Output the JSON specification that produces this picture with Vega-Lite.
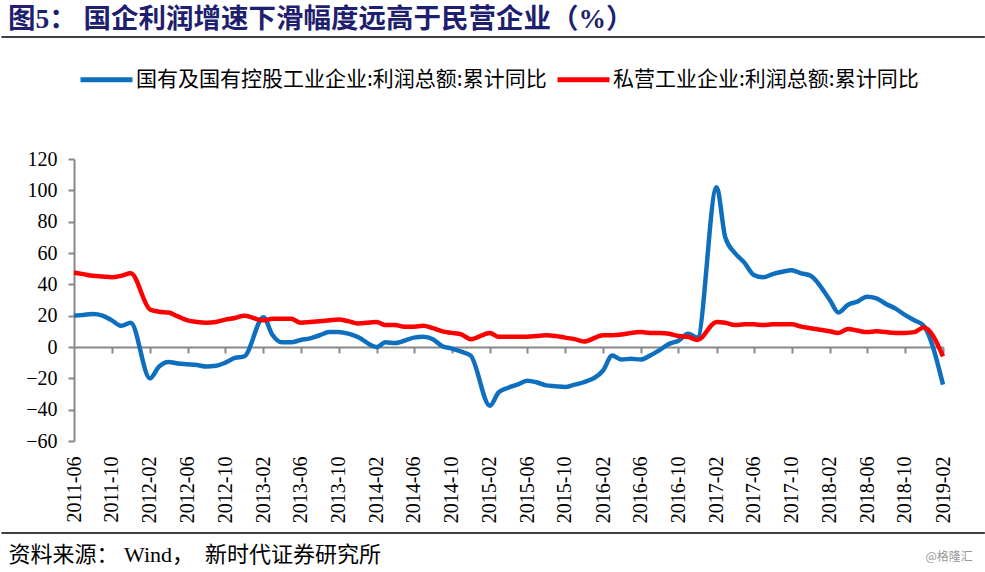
{
  "$schema": "https://vega.github.io/schema/vega-lite/v6.json",
  "width": 869,
  "height": 282,
  "autosize": {"type": "none"},
  "padding": {"left": 74, "top": 159, "right": 42, "bottom": 131},
  "background": "white",
  "title": {
    "text": "图5：  国企利润增速下滑幅度远高于民营企业（%）",
    "anchor": "start",
    "frame": "group",
    "dx": -66,
    "offset": 3,
    "font": "Liberation Serif, Noto Sans CJK SC",
    "fontSize": 27.5,
    "fontWeight": "bold",
    "color": "#1F1F70"
  },
  "data": {
    "values": [
      {"month": "2011-06", "soe": 20, "pvt": 47.5},
      {"month": "2011-07", "soe": 20.5, "pvt": 46.5},
      {"month": "2011-08", "soe": 21, "pvt": 45.5},
      {"month": "2011-09", "soe": 20, "pvt": 45},
      {"month": "2011-10", "soe": 17, "pvt": 44.5},
      {"month": "2011-11", "soe": 13.5, "pvt": 45.5},
      {"month": "2011-12", "soe": 15.5, "pvt": 47},
      {"month": "2012-02", "soe": -20, "pvt": 24},
      {"month": "2012-03", "soe": -12.5, "pvt": 22.5},
      {"month": "2012-04", "soe": -9.5, "pvt": 22},
      {"month": "2012-05", "soe": -10.5, "pvt": 19.5},
      {"month": "2012-06", "soe": -11, "pvt": 17},
      {"month": "2012-07", "soe": -11.5, "pvt": 16},
      {"month": "2012-08", "soe": -12.5, "pvt": 15.5},
      {"month": "2012-09", "soe": -12, "pvt": 16},
      {"month": "2012-10", "soe": -10, "pvt": 17.5},
      {"month": "2012-11", "soe": -7, "pvt": 18.5},
      {"month": "2012-12", "soe": -6, "pvt": 20},
      {"month": "2013-02", "soe": 19, "pvt": 17},
      {"month": "2013-03", "soe": 8, "pvt": 18},
      {"month": "2013-04", "soe": 3, "pvt": 18},
      {"month": "2013-05", "soe": 3, "pvt": 18},
      {"month": "2013-06", "soe": 4.5, "pvt": 15.5},
      {"month": "2013-07", "soe": 5.5, "pvt": 16},
      {"month": "2013-08", "soe": 7.5, "pvt": 16.5},
      {"month": "2013-09", "soe": 9.5, "pvt": 17},
      {"month": "2013-10", "soe": 9.5, "pvt": 17.5},
      {"month": "2013-11", "soe": 8.5, "pvt": 16.5},
      {"month": "2013-12", "soe": 6.5, "pvt": 15},
      {"month": "2014-02", "soe": 0, "pvt": 16},
      {"month": "2014-03", "soe": 3, "pvt": 14},
      {"month": "2014-04", "soe": 2.5, "pvt": 14},
      {"month": "2014-05", "soe": 4, "pvt": 13},
      {"month": "2014-06", "soe": 6, "pvt": 13},
      {"month": "2014-07", "soe": 6.5, "pvt": 13.5},
      {"month": "2014-08", "soe": 5, "pvt": 12},
      {"month": "2014-09", "soe": 0.5, "pvt": 10},
      {"month": "2014-10", "soe": -1, "pvt": 9},
      {"month": "2014-11", "soe": -3, "pvt": 8},
      {"month": "2014-12", "soe": -5.5, "pvt": 5},
      {"month": "2015-02", "soe": -37.5, "pvt": 9},
      {"month": "2015-03", "soe": -29, "pvt": 6.5},
      {"month": "2015-04", "soe": -26, "pvt": 6.5},
      {"month": "2015-05", "soe": -24, "pvt": 6.5},
      {"month": "2015-06", "soe": -21.5, "pvt": 6.5},
      {"month": "2015-07", "soe": -22.5, "pvt": 7},
      {"month": "2015-08", "soe": -24.5, "pvt": 7.5},
      {"month": "2015-09", "soe": -25, "pvt": 7},
      {"month": "2015-10", "soe": -25.5, "pvt": 6},
      {"month": "2015-11", "soe": -24, "pvt": 5},
      {"month": "2015-12", "soe": -22.5, "pvt": 3.5},
      {"month": "2016-02", "soe": -15, "pvt": 7.5},
      {"month": "2016-03", "soe": -5.5, "pvt": 7.5},
      {"month": "2016-04", "soe": -8, "pvt": 8},
      {"month": "2016-05", "soe": -7.5, "pvt": 9},
      {"month": "2016-06", "soe": -8, "pvt": 9.5},
      {"month": "2016-07", "soe": -5.5, "pvt": 9},
      {"month": "2016-08", "soe": -2, "pvt": 9},
      {"month": "2016-09", "soe": 2, "pvt": 8.5},
      {"month": "2016-10", "soe": 4, "pvt": 7},
      {"month": "2016-11", "soe": 8.5, "pvt": 6.5},
      {"month": "2016-12", "soe": 6, "pvt": 4.5},
      {"month": "2017-02", "soe": 102, "pvt": 16},
      {"month": "2017-03", "soe": 70, "pvt": 15.5},
      {"month": "2017-04", "soe": 60, "pvt": 14},
      {"month": "2017-05", "soe": 54, "pvt": 14.5},
      {"month": "2017-06", "soe": 46, "pvt": 14.5},
      {"month": "2017-07", "soe": 44.5, "pvt": 14},
      {"month": "2017-08", "soe": 46.5, "pvt": 14.5},
      {"month": "2017-09", "soe": 48, "pvt": 14.5},
      {"month": "2017-10", "soe": 49, "pvt": 14.5},
      {"month": "2017-11", "soe": 47, "pvt": 13},
      {"month": "2017-12", "soe": 45.5, "pvt": 12},
      {"month": "2018-02", "soe": 30, "pvt": 10},
      {"month": "2018-03", "soe": 22, "pvt": 9},
      {"month": "2018-04", "soe": 27, "pvt": 11.5},
      {"month": "2018-05", "soe": 29, "pvt": 10.5},
      {"month": "2018-06", "soe": 32, "pvt": 9.5},
      {"month": "2018-07", "soe": 31, "pvt": 10},
      {"month": "2018-08", "soe": 27.5, "pvt": 9.5},
      {"month": "2018-09", "soe": 24.5, "pvt": 9},
      {"month": "2018-10", "soe": 20.5, "pvt": 9},
      {"month": "2018-11", "soe": 17, "pvt": 9.5},
      {"month": "2018-12", "soe": 13.5, "pvt": 12.5},
      {"month": "2019-02", "soe": -24, "pvt": -6}
    ]
  },
  "layer": [
    {
      "transform": [{"fold": ["soe", "pvt"], "as": ["series", "value"]}],
      "mark": {"type": "line", "strokeWidth": 4.5, "interpolate": "monotone"},
      "encoding": {
        "x": {
          "field": "month",
          "type": "temporal",
          "scale": {"type": "utc", "domain": [{"year": 2011, "month": 6, "date": 1, "utc": true}, {"year": 2019, "month": 2, "date": 1, "utc": true}]},
          "axis": {
            "orient": "bottom",
            "offset": 0,
            "domain": false,
            "ticks": false,
            "grid": false,
            "values": [
              {"year": 2011, "month": 6, "date": 1, "utc": true}, {"year": 2011, "month": 10, "date": 1, "utc": true},
              {"year": 2012, "month": 2, "date": 1, "utc": true}, {"year": 2012, "month": 6, "date": 1, "utc": true}, {"year": 2012, "month": 10, "date": 1, "utc": true},
              {"year": 2013, "month": 2, "date": 1, "utc": true}, {"year": 2013, "month": 6, "date": 1, "utc": true}, {"year": 2013, "month": 10, "date": 1, "utc": true},
              {"year": 2014, "month": 2, "date": 1, "utc": true}, {"year": 2014, "month": 6, "date": 1, "utc": true}, {"year": 2014, "month": 10, "date": 1, "utc": true},
              {"year": 2015, "month": 2, "date": 1, "utc": true}, {"year": 2015, "month": 6, "date": 1, "utc": true}, {"year": 2015, "month": 10, "date": 1, "utc": true},
              {"year": 2016, "month": 2, "date": 1, "utc": true}, {"year": 2016, "month": 6, "date": 1, "utc": true}, {"year": 2016, "month": 10, "date": 1, "utc": true},
              {"year": 2017, "month": 2, "date": 1, "utc": true}, {"year": 2017, "month": 6, "date": 1, "utc": true}, {"year": 2017, "month": 10, "date": 1, "utc": true},
              {"year": 2018, "month": 2, "date": 1, "utc": true}, {"year": 2018, "month": 6, "date": 1, "utc": true}, {"year": 2018, "month": 10, "date": 1, "utc": true},
              {"year": 2019, "month": 2, "date": 1, "utc": true}
            ],
            "labelExpr": "utcFormat(datum.value, '%Y-%m')",
            "labelAngle": 270,
            "labelFont": "Liberation Serif",
            "labelFontSize": 20,
            "labelColor": "#000000",
            "labelPadding": 15,
            "labelOverlap": false,
            "labelFlush": false,
            "title": "资料来源：   Wind，　新时代证券研究所",
            "titleFont": "Liberation Serif, Noto Sans CJK SC",
            "titleFontSize": 22,
            "titleFontWeight": "normal",
            "titleColor": "#000000",
            "titleAlign": "left",
            "titleBaseline": "middle",
            "titleAnchor": "start",
            "titleX": -66,
            "titleY": 113
          }
        },
        "y": {
          "field": "value",
          "type": "quantitative",
          "scale": {"domain": [-60, 120], "nice": false, "zero": false},
          "axis": {
            "values": [-60, -40, -20, 0, 20, 40, 60, 80, 100, 120],
            "labelOverlap": false,
            "title": "@格隆汇",
            "titleAngle": 0,
            "titleX": 851,
            "titleY": 397,
            "titleFont": "Noto Sans CJK SC",
            "titleFontSize": 12,
            "titleFontWeight": "normal",
            "titleColor": "#999999",
            "titleAlign": "left",
            "titleBaseline": "middle"
          }
        },
        "color": {
          "field": "series",
          "type": "nominal",
          "scale": {"domain": ["soe", "pvt"], "range": ["#0F6FBF", "#FF0000"]},
          "legend": {
            "orient": "none",
            "direction": "horizontal",
            "legendX": 4,
            "legendY": -108,
            "title": null,
            "symbolType": "stroke",
            "symbolSize": 2704,
            "symbolStrokeWidth": 5,
            "labelFont": "Noto Sans CJK SC",
            "labelFontSize": 21,
            "labelColor": "#000000",
            "labelLimit": 800,
            "labelOffset": 1,
            "columnPadding": 0,
            "labelExpr": "datum.value === 'soe' ? '国有及国有控股工业企业:利润总额:累计同比' : '私营工业企业:利润总额:累计同比'"
          }
        }
      }
    },
    {
      "mark": {"type": "rule", "opacity": 0},
      "encoding": {
        "x": {
          "field": "month",
          "type": "temporal",
          "axis": {
            "orient": "bottom",
            "offset": -94,
            "domain": true,
            "domainColor": "#888888",
            "domainWidth": 2,
            "ticks": true,
            "tickColor": "#888888",
            "tickWidth": 2,
            "tickSize": 6,
            "tickOpacity": 1,
            "labels": false,
            "grid": false,
            "title": null,
            "values": [
              {"year": 2011, "month": 10, "date": 1, "utc": true},
              {"year": 2012, "month": 2, "date": 1, "utc": true}, {"year": 2012, "month": 6, "date": 1, "utc": true}, {"year": 2012, "month": 10, "date": 1, "utc": true},
              {"year": 2013, "month": 2, "date": 1, "utc": true}, {"year": 2013, "month": 6, "date": 1, "utc": true}, {"year": 2013, "month": 10, "date": 1, "utc": true},
              {"year": 2014, "month": 2, "date": 1, "utc": true}, {"year": 2014, "month": 6, "date": 1, "utc": true}, {"year": 2014, "month": 10, "date": 1, "utc": true},
              {"year": 2015, "month": 2, "date": 1, "utc": true}, {"year": 2015, "month": 6, "date": 1, "utc": true}, {"year": 2015, "month": 10, "date": 1, "utc": true},
              {"year": 2016, "month": 2, "date": 1, "utc": true}, {"year": 2016, "month": 6, "date": 1, "utc": true}, {"year": 2016, "month": 10, "date": 1, "utc": true},
              {"year": 2017, "month": 2, "date": 1, "utc": true}, {"year": 2017, "month": 6, "date": 1, "utc": true}, {"year": 2017, "month": 10, "date": 1, "utc": true},
              {"year": 2018, "month": 2, "date": 1, "utc": true}, {"year": 2018, "month": 6, "date": 1, "utc": true}, {"year": 2018, "month": 10, "date": 1, "utc": true},
              {"year": 2019, "month": 2, "date": 1, "utc": true}
            ]
          }
        },
        "y": {
          "datum": 0,
          "axis": {
            "values": [-60, -40, -20, 0, 20, 40, 60, 80, 100, 120],
            "labelOverlap": false,
            "title": "@格隆汇",
            "titleAngle": 0,
            "titleX": 851,
            "titleY": 397,
            "titleFont": "Noto Sans CJK SC",
            "titleFontSize": 12,
            "titleFontWeight": "normal",
            "titleColor": "#999999",
            "titleAlign": "left",
            "titleBaseline": "middle"
          }
        }
      }
    },
    {
      "data": {"values": [{}]},
      "mark": {"type": "rule", "color": "#000000", "strokeWidth": 1.5, "clip": false},
      "encoding": {
        "x": {"datum": {"year": 2010, "month": 10, "date": 10, "utc": true}, "type": "temporal", "axis": null},
        "x2": {"datum": {"year": 2019, "month": 6, "date": 16, "utc": true}},
        "y": {
          "datum": 197.9,
          "axis": {
            "values": [-60, -40, -20, 0, 20, 40, 60, 80, 100, 120],
            "labelOverlap": false,
            "title": "@格隆汇",
            "titleAngle": 0,
            "titleX": 851,
            "titleY": 397,
            "titleFont": "Noto Sans CJK SC",
            "titleFontSize": 12,
            "titleFontWeight": "normal",
            "titleColor": "#999999",
            "titleAlign": "left",
            "titleBaseline": "middle"
          }
        }
      }
    },
    {
      "data": {"values": [{}]},
      "mark": {"type": "rule", "color": "#000000", "strokeWidth": 1.5, "clip": false},
      "encoding": {
        "x": {"datum": {"year": 2010, "month": 10, "date": 10, "utc": true}, "type": "temporal", "axis": null},
        "x2": {"datum": {"year": 2019, "month": 6, "date": 16, "utc": true}},
        "y": {
          "datum": -118.7,
          "axis": {
            "values": [-60, -40, -20, 0, 20, 40, 60, 80, 100, 120],
            "labelOverlap": false,
            "title": "@格隆汇",
            "titleAngle": 0,
            "titleX": 851,
            "titleY": 397,
            "titleFont": "Noto Sans CJK SC",
            "titleFontSize": 12,
            "titleFontWeight": "normal",
            "titleColor": "#999999",
            "titleAlign": "left",
            "titleBaseline": "middle"
          }
        }
      }
    }
  ],
  "resolve": {"axis": {"x": "independent"}},
  "config": {
    "view": {"stroke": null},
    "axis": {"labelOverlap": false, "grid": false},
    "axisY": {
      "grid": false,
      "domainColor": "#888888",
      "domainWidth": 2,
      "tickColor": "#888888",
      "tickWidth": 2,
      "tickSize": 6,
      "labelFont": "Liberation Serif",
      "labelFontSize": 20,
      "labelColor": "#000000",
      "labelPadding": 11,
      "labelOverlap": false,
      "labelFlush": false
    }
  }
}
